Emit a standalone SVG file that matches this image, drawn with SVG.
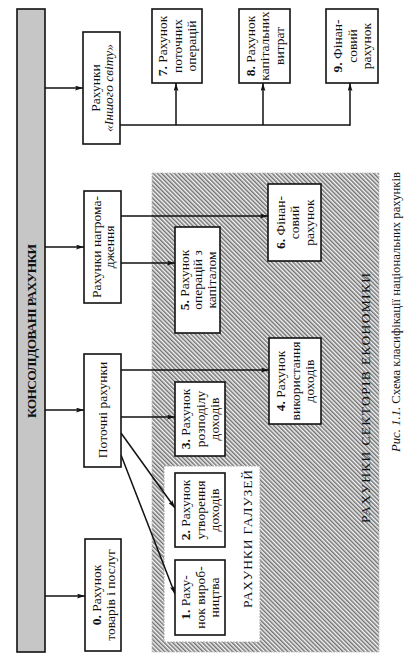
<svg xmlns="http://www.w3.org/2000/svg" width="416" height="667" viewBox="0 0 416 667">
<style>
  text { font-family: "Liberation Serif", "Times New Roman", serif; fill: #111; }
  .bx { fill: #fff; stroke: #111; stroke-width: 1.6; }
  .t { font-size: 13.5px; text-anchor: middle; }
  .b { font-weight: bold; }
  .i { font-style: italic; }
  .c { fill: none; stroke: #111; stroke-width: 1.5; }
  .ca { fill: none; stroke: #111; stroke-width: 1.5; marker-end: url(#ah); }
</style>
<defs>
  <marker id="ah" viewBox="0 0 10 6" refX="10" refY="3" markerWidth="8" markerHeight="5" markerUnits="userSpaceOnUse" orient="auto">
    <path d="M0,0 L10,3 L0,6 L2,3 z" fill="#111"/>
  </marker>
  <pattern id="hatch" patternUnits="userSpaceOnUse" width="3" height="3" patternTransform="rotate(-45)">
    <rect width="3" height="3" fill="#f4f4f4"/>
    <line x1="0.8" y1="0" x2="0.8" y2="3" stroke="#444" stroke-width="1.1"/>
  </pattern>
</defs>
<rect width="416" height="667" fill="#fff"/>

<g id="sectors">
  <rect x="152" y="173" width="227" height="479" fill="url(#hatch)" stroke="#bbb" stroke-width="1" stroke-dasharray="1.5,1"/>
  <text class="t" font-size="14" transform="translate(370,398) rotate(-90)" textLength="250" lengthAdjust="spacing">РАХУНКИ  СЕКТОРІВ  ЕКОНОМІКИ</text>
</g>
<g id="industries">
  <rect x="164" y="466" width="96" height="176" fill="#fff" stroke="#aaa" stroke-width="1" stroke-dasharray="2,1"/>
  <text class="t" font-size="14" transform="translate(252,539) rotate(-90)" textLength="138" lengthAdjust="spacing">РАХУНКИ  ГАЛУЗЕЙ</text>
</g>

<g id="consolidated">
  <rect x="17" y="9" width="28" height="643" fill="#c6c6c6" stroke="#111" stroke-width="1.6"/>
  <text class="t b" font-size="14" transform="translate(35.5,331) rotate(-90)" textLength="174" lengthAdjust="spacing">КОНСОЛІДОВАНІ  РАХУНКИ</text>
</g>

<g id="connectors">
  <line class="ca" x1="45" y1="88" x2="83" y2="88"/>
  <line class="ca" x1="45" y1="247" x2="84" y2="247"/>
  <line class="ca" x1="45" y1="410" x2="84" y2="410"/>
  <line class="ca" x1="45" y1="596" x2="85" y2="596"/>
  <line class="c" x1="120" y1="125" x2="350" y2="125"/>
  <line class="ca" x1="176" y1="125" x2="176" y2="83"/>
  <line class="ca" x1="263" y1="125" x2="263" y2="83"/>
  <line class="ca" x1="350" y1="125.7" x2="350" y2="83"/>
  <line class="ca" x1="121" y1="216" x2="268" y2="216"/>
  <line class="ca" x1="121" y1="263" x2="175" y2="263"/>
  <line class="ca" x1="121" y1="370" x2="269" y2="370"/>
  <line class="ca" x1="121" y1="417" x2="175" y2="417"/>
  <line class="ca" x1="121" y1="433" x2="175" y2="508"/>
  <line class="ca" x1="121" y1="455" x2="175" y2="594"/>
</g>

<g id="other-world">
  <rect class="bx" x="83" y="32" width="37" height="112"/>
  <g transform="translate(101.5,88) rotate(-90)">
    <text class="t" y="-2">Рахунки</text>
    <text class="t i" y="11.5">«Іншого світу»</text>
  </g>
</g>
<g id="accumulation">
  <rect class="bx" x="84" y="191" width="37" height="112"/>
  <g transform="translate(102.5,247) rotate(-90)">
    <text class="t" y="-2">Рахунки нагрома-</text>
    <text class="t" y="11.5">дження</text>
  </g>
</g>
<g id="current">
  <rect class="bx" x="84" y="354" width="37" height="113"/>
  <g transform="translate(102.5,410) rotate(-90)">
    <text class="t" y="4.5">Поточні рахунки</text>
  </g>
</g>
<g id="acc0">
  <rect class="bx" x="85" y="539" width="36" height="112"/>
  <g transform="translate(103,595) rotate(-90)">
    <text class="t" y="-2"><tspan class="b">0.</tspan> Рахунок</text>
    <text class="t" y="11.5">товарів і послуг</text>
  </g>
</g>

<g id="acc7">
  <rect class="bx" x="152" y="9" width="50" height="74"/>
  <g transform="translate(177,46) rotate(-90)">
    <text class="t" y="-10"><tspan class="b">7.</tspan> Рахунок</text>
    <text class="t" y="4.5">поточних</text>
    <text class="t" y="19">операцій</text>
  </g>
</g>
<g id="acc8">
  <rect class="bx" x="239" y="9" width="51" height="74"/>
  <g transform="translate(264.5,46) rotate(-90)">
    <text class="t" y="-10"><tspan class="b">8.</tspan> Рахунок</text>
    <text class="t" y="4.5">капітальних</text>
    <text class="t" y="19">витрат</text>
  </g>
</g>
<g id="acc9">
  <rect class="bx" x="326" y="9" width="52" height="74"/>
  <g transform="translate(352,46) rotate(-90)">
    <text class="t" y="-10"><tspan class="b">9.</tspan> Фінан-</text>
    <text class="t" y="4.5">совий</text>
    <text class="t" y="19">рахунок</text>
  </g>
</g>
<g id="acc6">
  <rect class="bx" x="268" y="184" width="53" height="77"/>
  <g transform="translate(294.5,222.5) rotate(-90)">
    <text class="t" y="-10"><tspan class="b">6.</tspan> Фінан-</text>
    <text class="t" y="4.5">совий</text>
    <text class="t" y="19">рахунок</text>
  </g>
</g>
<g id="acc5">
  <rect class="bx" x="175" y="227" width="45" height="106"/>
  <g transform="translate(197.5,280) rotate(-90)">
    <text class="t" y="-9"><tspan class="b">5.</tspan> Рахунок</text>
    <text class="t" y="4.5">операцій з</text>
    <text class="t" y="18">капіталом</text>
  </g>
</g>
<g id="acc4">
  <rect class="bx" x="269" y="338" width="52" height="86"/>
  <g transform="translate(295,381) rotate(-90)">
    <text class="t" y="-10"><tspan class="b">4.</tspan> Рахунок</text>
    <text class="t" y="4.5">використання</text>
    <text class="t" y="19">доходів</text>
  </g>
</g>
<g id="acc3">
  <rect class="bx" x="175" y="382" width="50" height="74"/>
  <g transform="translate(200,419) rotate(-90)">
    <text class="t" y="-10"><tspan class="b">3.</tspan> Рахунок</text>
    <text class="t" y="4.5">розподілу</text>
    <text class="t" y="19">доходів</text>
  </g>
</g>
<g id="acc2">
  <rect class="bx" x="175" y="473" width="50" height="74"/>
  <g transform="translate(200,510) rotate(-90)">
    <text class="t" y="-10"><tspan class="b">2.</tspan> Рахунок</text>
    <text class="t" y="4.5">утворення</text>
    <text class="t" y="19">доходів</text>
  </g>
</g>
<g id="acc1">
  <rect class="bx" x="175" y="560" width="50" height="75"/>
  <g transform="translate(200,597.5) rotate(-90)">
    <text class="t" y="-10"><tspan class="b">1.</tspan> Раху-</text>
    <text class="t" y="4.5">нок вироб-</text>
    <text class="t" y="19">ництва</text>
  </g>
</g>

<g id="caption">
  <text class="t" font-size="12" transform="translate(400,312) rotate(-90)" textLength="280" lengthAdjust="spacingAndGlyphs"><tspan class="i">Рис. 1.1.</tspan> Схема класифікації національних рахунків</text>
</g>
</svg>
